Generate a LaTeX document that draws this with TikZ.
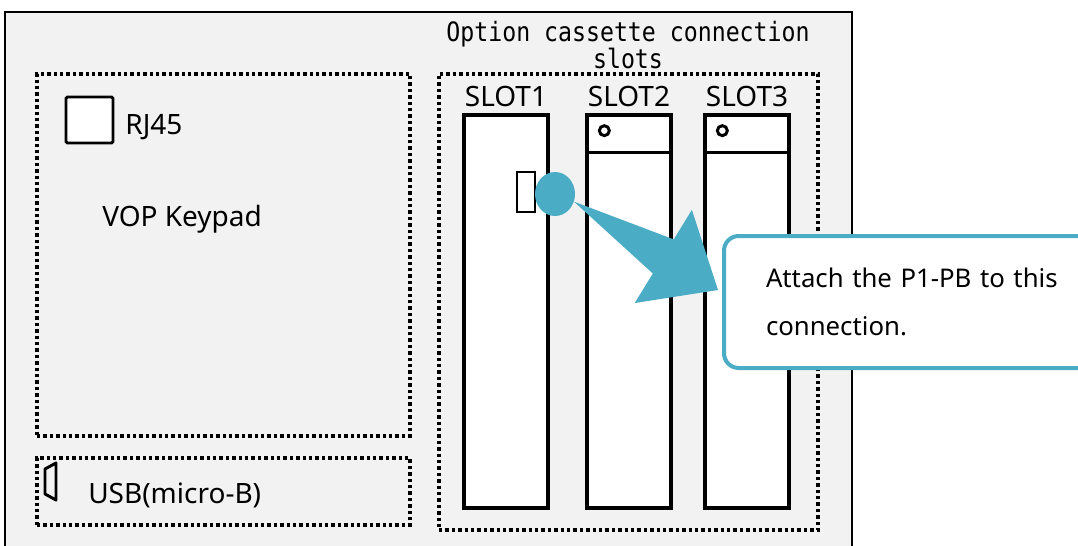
\documentclass[tikz,border=0pt]{standalone}
\usepackage{fontspec}
\setmainfont{Noto Sans}
\newfontfamily\titlefont[FakeStretch=0.87]{DejaVu Sans Mono}
\usetikzlibrary{positioning,calc,fit,shapes.geometric}
\definecolor{boardgray}{HTML}{F2F2F2}
\definecolor{pbblue}{HTML}{4BACC6}
\pgfdeclarelayer{front}
\pgfsetlayers{main,front}
\begin{document}
\begin{tikzpicture}[x=0.75pt,y=-0.75pt,
        board/.style={draw,line width=1.5pt,fill=boardgray,inner sep=0pt},
        dotbox/.style={draw,line width=2.6pt,dash pattern=on 2.5pt off 2.3pt,inner sep=0pt},
        slotbox/.style={draw,line width=2.5pt,fill=white,inner sep=0pt},
        hole/.style={circle,draw,line width=2.2pt,fill=white,inner sep=0pt,minimum size=7.5pt},
        lbl/.style={inner sep=0pt,font=\fontsize{21}{25}\selectfont},
        note/.style={draw=pbblue,line width=3pt,fill=white,rounded corners=11pt,align=left,
            inner xsep=31.5pt,inner ysep=0pt,text width=260pt,minimum height=99pt,
            font=\fontsize{19.3}{36}\selectfont}]
        \useasboundingbox (0,0) rectangle (1078,546);
        \clip (0,0) rectangle (1078,546);
        \node[board,fit={(5,12) (852,580)}] (unit) {};
        \node[dotbox,fit={(37,74) (410,436)}] (keypad) {};
        \node[dotbox,fit={(37,458) (410,525)}] (usb) {};
        \node[dotbox,fit={(439,74) (818,530)}] (slots) {};
        \node[lbl,font=\titlefont\fontsize{20}{20}\selectfont,align=center,anchor=north] (title) at (628,21) {Option cassette connection\\slots};
        \node[slotbox,fit={(464,115) (548,508)}] (slot1) {};
        \node[slotbox,fit={(587,115) (671,508)}] (slot2) {};
        \node[slotbox,fit={(705,115) (789,508)}] (slot3) {};
        \foreach \s/\t in {slot1/SLOT1,slot2/SLOT2,slot3/SLOT3}
            \node[lbl,anchor=base] at ([yshift=5pt]\s.north) {\t};
        \foreach \s in {slot2,slot3} {
            \draw[line width=2.5pt] ([yshift=-29.25pt]\s.north west) -- ([yshift=-29.25pt]\s.north east);
            \node[hole] at ([xshift=14.25pt,yshift=-13pt]\s.north west) {};
        }
        \node[draw,line width=2.2pt,fill=white,rounded corners=1pt,fit={(66,97) (113,143)},inner sep=0pt] (rj) {};
        \node[lbl,anchor=base west] at ([xshift=8pt,yshift=7.5pt]rj.south east) {RJ45};
        \node[lbl,anchor=base west] (vop) at (102,226) {VOP Keypad};
        \draw[line width=2.2pt,line join=round] (45,469) -- (56,463) -- (56,500) -- (45,494) -- cycle;
        \node[lbl,anchor=base west] (usbtext) at (88,503) {USB(micro-B)};
        \node[draw,line width=2.2pt,fill=white,fit={(517,172) (535,212)},inner sep=0pt] (plug) {};
        \node[ellipse,fill=pbblue,minimum width=30pt,minimum height=33pt,inner sep=0pt] (dot) at (555,194) {};
        \begin{pgfonlayer}{front}
            \node[note,anchor=north west] (callout) at (722,234) {Attach the P1-PB to this\\connection.};
        \end{pgfonlayer}
        \coordinate (root) at (dot.-22);
        \coordinate (tip) at ([xshift=-3pt,yshift=9pt]callout.west);
        \coordinate (neck) at ($(root)!0.62!(tip)$);
        \fill[pbblue] (root) -- ($(neck)!15pt!90:(tip)$) -- ($(neck)!41pt!90:(tip)$) -- (tip)
            -- ($(neck)!41pt!-90:(tip)$) -- ($(neck)!15pt!-90:(tip)$) -- cycle;
\end{tikzpicture}
\end{document}
